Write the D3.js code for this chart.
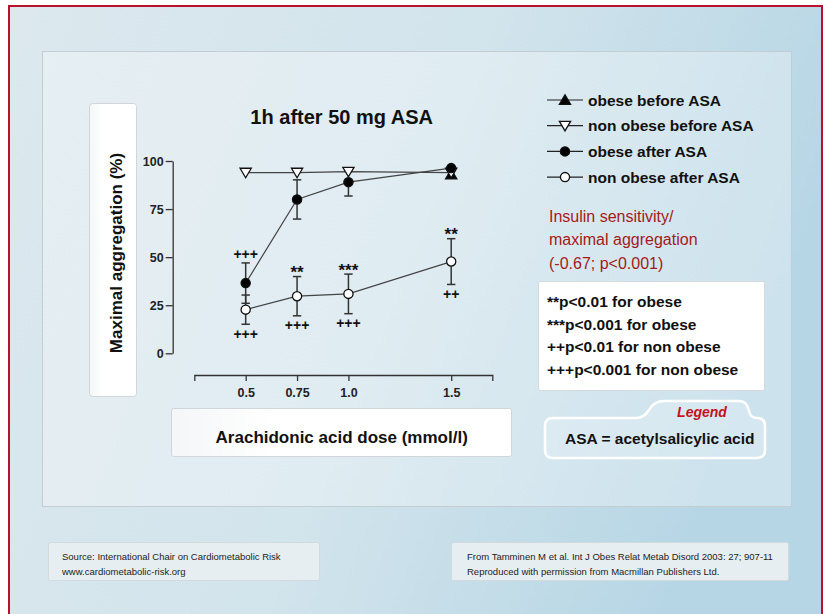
<!DOCTYPE html>
<html><head><meta charset="utf-8">
<script src="https://cdn.jsdelivr.net/npm/d3@7"></script>
<style>
html,body{margin:0;padding:0;background:#fff;}
svg{display:block;font-family:"Liberation Sans",Arial,Helvetica,sans-serif;}
</style></head>
<body>
<svg id="c" width="827" height="614"></svg>
<script>
// ---- data ----
const doses = [0.5, 0.75, 1.0, 1.5];
const xTickLabels = ["0.5", "0.75", "1.0", "1.5"];
const yTicks = [0, 25, 50, 75, 100];
// obese before ASA: only the 1.5 point is visible (others hidden under the open triangles)
const obeseBefore = [null, null, null, 93];
const nonObeseBefore = [94, 94, 94.5, 94];
const obeseAfter = [36.5, 80, 89, 96.3];
const obeseAfterErr = [10.5, 10.2, 7.2, 0];
const nonObeseAfter = [22.7, 29.7, 30.9, 47.7];
const nonObeseAfterErr = [7.6, 10.2, 10.3, 11.9];
const annotations = [
  {dose: 0.5, series: "obeseAfter", side: "above", text: "+++"},
  {dose: 0.5, series: "nonObeseAfter", side: "below", text: "+++"},
  {dose: 0.75, series: "nonObeseAfter", side: "above", text: "**"},
  {dose: 0.75, series: "nonObeseAfter", side: "below", text: "+++"},
  {dose: 1.0, series: "nonObeseAfter", side: "above", text: "***"},
  {dose: 1.0, series: "nonObeseAfter", side: "below", text: "+++"},
  {dose: 1.5, series: "nonObeseAfter", side: "above", text: "**"},
  {dose: 1.5, series: "nonObeseAfter", side: "below", text: "++"}
];
const legendLabels = ["obese before ASA", "non obese before ASA", "obese after ASA", "non obese after ASA"];
const correlationLines = ["Insulin sensitivity/", "maximal aggregation", "(-0.67; p<0.001)"];
const pValueLines = ["**p<0.01 for obese", "***p<0.001 for obese", "++p<0.01 for non obese", "+++p<0.001 for non obese"];
const titleText = "1h after 50 mg ASA";
const yLabel = "Maximal aggregation (%)";
const xLabel = "Arachidonic acid dose (mmol/l)";
const footLeft = ["Source: International Chair on Cardiometabolic Risk", "www.cardiometabolic-risk.org"];
const footRight = ["From Tamminen M et al. Int J Obes Relat Metab Disord 2003: 27; 907-11", "Reproduced with permission from Macmillan Publishers Ltd."];

const svg = d3.select("#c");
const defs = svg.append("defs");
const bg = defs.append("linearGradient").attr("id","bg").attr("x1","0").attr("y1","0").attr("x2","1").attr("y2","0.3");
bg.append("stop").attr("offset","0%").attr("stop-color","#dce8ee");
bg.append("stop").attr("offset","55%").attr("stop-color","#d2e4ec");
bg.append("stop").attr("offset","100%").attr("stop-color","#b7d6e5");
const wb = defs.append("linearGradient").attr("id","wb").attr("x1","0").attr("y1","0").attr("x2","1").attr("y2","0");
wb.append("stop").attr("offset","0%").attr("stop-color","#f4f6f7");
wb.append("stop").attr("offset","30%").attr("stop-color","#ffffff");

// background + red frame
svg.append("rect").attr("x",9).attr("y",6).attr("width",813).attr("height",640)
  .attr("fill","url(#bg)").attr("stroke","#b8112e").attr("stroke-width",2);

// main panel
svg.append("rect").attr("x",42.5).attr("y",51.5).attr("width",749).attr("height",455)
  .attr("fill","#ffffff").attr("fill-opacity",0.3).attr("stroke","#c3cdd2").attr("stroke-width",1);

// label boxes
svg.append("rect").attr("x",89.5).attr("y",103.5).attr("width",47).attr("height",293).attr("rx",3)
  .attr("fill","url(#wb)").attr("stroke","#d0d6da");
svg.append("rect").attr("x",171.5).attr("y",408.5).attr("width",340).attr("height",48).attr("rx",2)
  .attr("fill","url(#wb)").attr("stroke","#d0d6da");

// footers
[[48.5,footLeft,62],[451.5,footRight,467]].forEach(([bx,lines,tx],k)=>{
  svg.append("rect").attr("x",bx).attr("y",542.5).attr("width",k?337:271).attr("height",38).attr("rx",2)
    .attr("fill","#e7eef1").attr("stroke","#d1dade");
  lines.forEach((t,i)=>svg.append("text").attr("x",tx).attr("y",560+i*15)
    .attr("font-size",9.5).attr("fill","#222").text(t));
});

// scales
const x = d3.scaleLinear().domain([0.25,1.7]).range([194.3,492.3]);
const y = d3.scaleLinear().domain([0,100]).range([353.3,161]);

// axes
const gy = svg.append("g").attr("transform","translate(172.7,0)")
  .call(d3.axisLeft(y).tickValues(yTicks).tickSize(7).tickSizeOuter(0).tickPadding(2));
const gx = svg.append("g").attr("transform","translate(0,375)")
  .call(d3.axisBottom(x).tickValues(doses).tickFormat((d,i)=>xTickLabels[i]).tickSize(6).tickSizeOuter(6).tickPadding(7));
[gy,gx].forEach(g=>{
  g.selectAll("path,line").attr("stroke","#333").attr("stroke-width",1.3);
  g.selectAll("text").attr("font-size",12.5).attr("font-weight","bold").attr("fill","#222")
    .attr("font-family","'Liberation Sans',Arial,sans-serif");
});

// title and axis labels
svg.append("text").attr("x",341.7).attr("y",123.5).attr("text-anchor","middle")
  .attr("font-size",20).attr("font-weight","bold").attr("fill","#111").text(titleText);
svg.append("text").attr("transform","translate(116,253) rotate(-90)").attr("text-anchor","middle")
  .attr("dominant-baseline","central").attr("font-size",17).attr("font-weight","bold").attr("fill","#111").text(yLabel);
svg.append("text").attr("x",341.7).attr("y",443).attr("text-anchor","middle")
  .attr("font-size",17).attr("font-weight","bold").attr("fill","#111").text(xLabel);

// series
const series = {
  obeseBefore: {v: obeseBefore, marker: "up", fill: "#000"},
  nonObeseBefore: {v: nonObeseBefore, marker: "down", fill: "#fff"},
  obeseAfter: {v: obeseAfter, err: obeseAfterErr, marker: "circle", fill: "#000"},
  nonObeseAfter: {v: nonObeseAfter, err: nonObeseAfterErr, marker: "circle", fill: "#fff"}
};
const order = ["obeseBefore","nonObeseBefore","obeseAfter","nonObeseAfter"];
const line = d3.line().defined(d=>d!=null).x((d,i)=>x(doses[i])).y(d=>y(d));
order.forEach(k=>{
  svg.append("path").attr("d",line(series[k].v)).attr("fill","none").attr("stroke","#444").attr("stroke-width",1.2);
});
// error bars
["obeseAfter","nonObeseAfter"].forEach(k=>{
  const s = series[k];
  const g = svg.append("g").attr("stroke","#333").attr("stroke-width",1.5);
  s.v.forEach((v,i)=>{
    const e = s.err[i]; if(!e) return;
    const cx = x(doses[i]);
    g.append("line").attr("x1",cx).attr("x2",cx).attr("y1",y(v-e)).attr("y2",y(v+e));
    [v-e,v+e].forEach(t=>g.append("line").attr("x1",cx-4.2).attr("x2",cx+4.2).attr("y1",y(t)).attr("y2",y(t)));
  });
});
function markerPath(type){
  if(type==="up") return "M0,-5.2L5.6,4.3L-5.6,4.3Z";
  if(type==="down") return "M0,5.2L5.6,-4.3L-5.6,-4.3Z";
  return d3.symbol(d3.symbolCircle, Math.PI*4.6*4.6)();
}
function drawMarker(g, type, fill, cx, cy){
  g.append("path").attr("d",markerPath(type)).attr("transform",`translate(${cx},${cy})`)
    .attr("fill",fill).attr("stroke","#111").attr("stroke-width",1.3);
}
order.forEach(k=>{
  const s = series[k];
  const g = svg.append("g");
  s.v.forEach((v,i)=>{ if(v!=null) drawMarker(g, s.marker, s.fill, x(doses[i]), y(v)); });
});

// significance annotations
annotations.forEach(a=>{
  const s = series[a.series];
  const i = doses.indexOf(a.dose);
  const cx = x(a.dose);
  const isStar = a.text[0]==="*";
  const fs = isStar ? 17 : 14;
  let base;
  if(a.side==="above"){
    const capY = y(s.v[i]+s.err[i]);
    base = isStar ? capY - 8 + 0.57*fs : capY - 9 + 0.35*fs;
  } else {
    const capY = y(s.v[i]-s.err[i]);
    base = capY + 9.5 + 0.35*fs;
  }
  svg.append("text").attr("x",cx).attr("y",base).attr("text-anchor","middle")
    .attr("font-size",fs).attr("font-weight","bold").attr("fill","#111").text(a.text);
});

// legend
legendLabels.forEach((t,i)=>{
  const ly = 100 + i*25.7;
  const g = svg.append("g");
  g.append("line").attr("x1",547).attr("x2",583).attr("y1",ly).attr("y2",ly).attr("stroke","#222").attr("stroke-width",1.2);
  const s = series[order[i]];
  drawMarker(g, s.marker, s.fill, 565, ly);
  g.append("text").attr("x",588).attr("y",ly).attr("dominant-baseline","central")
    .attr("font-size",15.5).attr("font-weight","bold").attr("fill","#111").text(t);
});

// correlation text
correlationLines.forEach((t,i)=>svg.append("text").attr("x",549).attr("y",216+i*23.7)
  .attr("dominant-baseline","central").attr("font-size",16).attr("fill","#a31a1a").text(t));

// p-value box
svg.append("rect").attr("x",538.5).attr("y",281.5).attr("width",226).attr("height",109).attr("rx",1.5)
  .attr("fill","#ffffff").attr("stroke","#d4dadd");
pValueLines.forEach((t,i)=>svg.append("text").attr("x",547).attr("y",301.7+i*22.45)
  .attr("dominant-baseline","central").attr("font-size",15.5).attr("font-weight","bold").attr("fill","#111").text(t));

// ASA legend tab box
svg.append("path")
  .attr("d","M553,418 L636,418 Q644,418 649,410 Q654,401 664,401 L739,401 Q746,401 748,408 L750,414 Q752,418 757,418 Q765,418 765,426 L765,450 Q765,458 757,458 L553,458 Q545,458 545,450 L545,426 Q545,418 553,418 Z")
  .attr("fill","#ffffff").attr("fill-opacity",0.18).attr("stroke","#ffffff").attr("stroke-width",2.5);
svg.append("text").attr("x",702).attr("y",411.5).attr("text-anchor","middle").attr("dominant-baseline","central")
  .attr("font-size",14).attr("font-weight","bold").attr("font-style","italic").attr("fill","#c4121a").text("Legend");
svg.append("text").attr("x",565).attr("y",438.5).attr("dominant-baseline","central")
  .attr("font-size",15.5).attr("font-weight","bold").attr("fill","#111").text("ASA = acetylsalicylic acid");
</script>
</body></html>
